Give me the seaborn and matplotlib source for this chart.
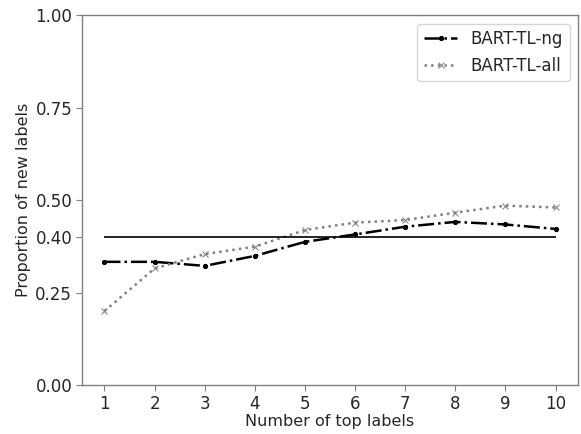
import numpy as np
import pandas as pd
import matplotlib
matplotlib.use("Agg")
import matplotlib.pyplot as plt
import seaborn as sns

# data
top_labels = [1, 2, 3, 4, 5, 6, 7, 8, 9, 10]
bart_ng = [0.333, 0.333, 0.322, 0.349, 0.387, 0.407, 0.428, 0.441, 0.434, 0.422]
bart_all = [0.200, 0.315, 0.354, 0.374, 0.419, 0.439, 0.446, 0.466, 0.485, 0.480]
baseline = 0.40
y_ticks = [0.0, 0.25, 0.40, 0.50, 0.75, 1.0]

sns.set_style("white")
plt.rcParams["font.family"] = ["DejaVu Sans"]

fig = plt.figure(figsize=(5.81, 4.34), dpi=100)
ax = fig.add_axes([0.141, 0.113, 0.854, 0.852])

df = pd.DataFrame({"k": top_labels, "ng": bart_ng, "all": bart_all})

sns.lineplot(data=df, x="k", y="ng", ax=ax, color="black", linestyle="-.",
             marker=".", markersize=6, markeredgecolor="black",
             linewidth=1.8, label="BART-TL-ng")
sns.lineplot(data=df, x="k", y="all", ax=ax, color="gray", linestyle=":",
             marker="x", markersize=5, markeredgecolor="gray",
             linewidth=1.8, label="BART-TL-all")
ax.hlines(baseline, top_labels[0], top_labels[-1], color="black", linewidth=1.2)

ax.set_ylim(0, 1)
ax.set_yticks(y_ticks)
ax.set_yticklabels([f"{t:.2f}" for t in y_ticks])
ax.set_xticks(top_labels)
ax.set_xlabel("Number of top labels", fontsize=11.5, labelpad=1)
ax.set_ylabel("Proportion of new labels", fontsize=11.5, labelpad=3)
ax.tick_params(axis="both", labelsize=12, length=4, pad=3, color="gray", left=True, bottom=True)
for s in ax.spines.values():
    s.set_color("gray")
    s.set_linewidth(1.0)

ax.legend(loc="upper right", fontsize=12, frameon=True)

fig.savefig("out.png", dpi=100)
